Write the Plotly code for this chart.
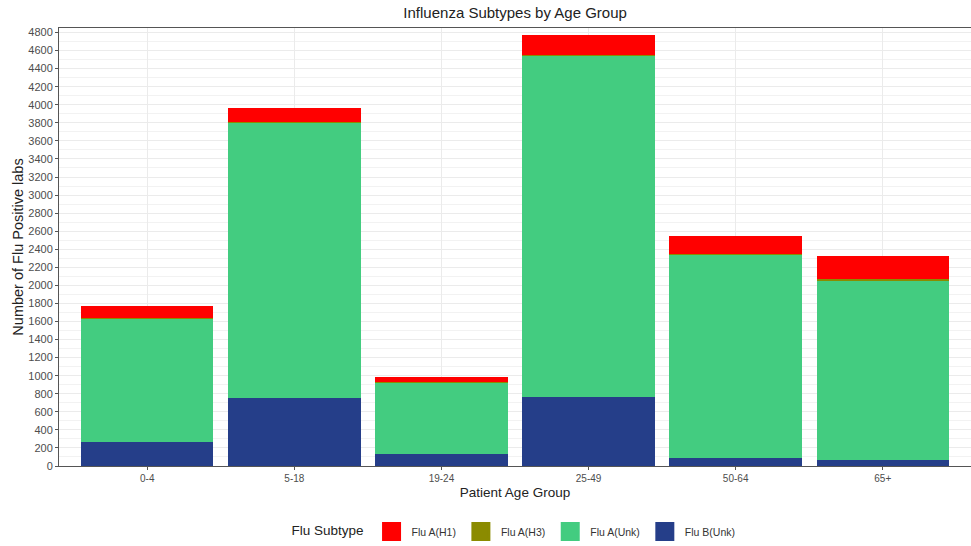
import plotly.graph_objects as go

age_groups = ["0-4", "5-18", "19-24", "25-49", "50-64", "65+"]
flu_b_unk = [265, 750, 130, 760, 93, 63]
flu_a_unk = [1365, 3050, 795, 3780, 2245, 1990]
flu_a_h3 = [10, 5, 3, 10, 10, 20]
flu_a_h1 = [127, 160, 55, 220, 200, 252]

series = [
    ("Flu B(Unk)", flu_b_unk, "#253E89"),
    ("Flu A(Unk)", flu_a_unk, "#43CC80"),
    ("Flu A(H3)", flu_a_h3, "#8B8B00"),
    ("Flu A(H1)", flu_a_h1, "#FF0000"),
]

FONT = "Liberation Sans, Arial, sans-serif"
fig = go.Figure()
for name, vals, col in series:
    fig.add_trace(go.Bar(x=age_groups, y=vals, name=name, marker_color=col,
                         marker_line_width=0, showlegend=False))
for name, vals, col in series:
    fig.add_trace(go.Scatter(x=[None], y=[None], mode="markers", name=name,
                             marker=dict(symbol="square", size=16, color=col,
                                         line=dict(width=3, color=col))))

fig.update_layout(
    width=971, height=546,
    barmode="stack", bargap=0.1,
    plot_bgcolor="white", paper_bgcolor="white",
    margin=dict(l=59, r=0, t=28, b=77),
    font=dict(family=FONT, color="#333333"),
    title=dict(text="Influenza Subtypes by Age Group", x=0.5305, xanchor="center",
               y=0.976, yanchor="middle", font=dict(size=15, color="#222222")),
    legend=dict(orientation="h", x=0.5, xanchor="center", y=-0.15, yanchor="middle",
                traceorder="reversed", itemsizing="trace",
                title=dict(text="Flu Subtype", font=dict(size=13.5, color="#222222")),
                font=dict(size=10.5, color="#333333")),
    xaxis=dict(range=[-0.6, 5.6], showgrid=True, gridcolor="#EBEBEB", gridwidth=1,
               showline=True, linecolor="#555555", linewidth=1, mirror=True,
               ticks="outside", ticklen=3, tickcolor="#555555",
               tickfont=dict(size=10, color="#4D4D4D"),
               title=dict(text="Patient Age Group", font=dict(size=13.5, color="#222222"), standoff=4)),
    yaxis=dict(range=[0, 4850], tickmode="linear", tick0=0, dtick=200,
               showgrid=True, gridcolor="#EBEBEB", gridwidth=1,
               minor=dict(dtick=100, showgrid=True, gridcolor="#F2F2F2", gridwidth=0.6),
               showline=True, linecolor="#555555", linewidth=1,
               ticks="outside", ticklen=3, tickcolor="#555555",
               tickfont=dict(size=11, color="#4D4D4D"), zeroline=False,
               title=dict(text="Number of Flu Positive labs", font=dict(size=14.5, color="#222222"), standoff=1)),
)
fig.write_html("out.html", config={"displayModeBar": False},
               post_script="document.body.style.margin='0px';")
